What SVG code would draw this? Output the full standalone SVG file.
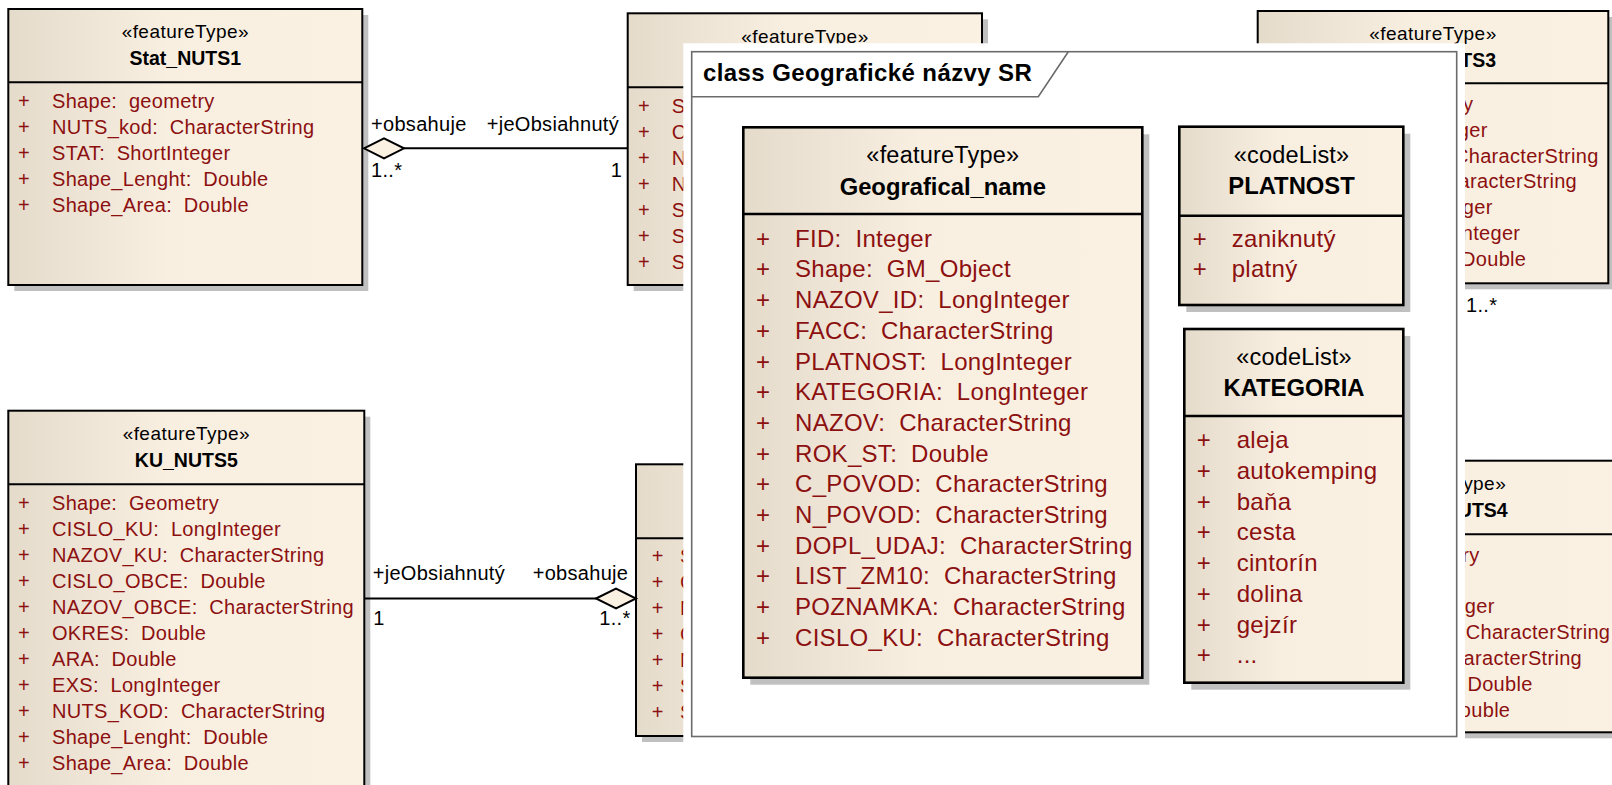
<svg xmlns="http://www.w3.org/2000/svg" width="1612" height="785" viewBox="0 0 1612 785">
  <defs>
    <linearGradient id="boxFill" x1="0" y1="0" x2="1" y2="0">
      <stop offset="0" stop-color="#e5dbcb"/>
      <stop offset="0.45" stop-color="#f9efe1"/>
      <stop offset="1" stop-color="#fbf1e3"/>
    </linearGradient>
    <style>
      text { font-family: "Liberation Sans", Arial, sans-serif; }
      .shadow { fill: #c0c0c0; }
      .box { fill: url(#boxFill); stroke: #000; stroke-width: 2; }
      .ibox { fill: url(#boxFill); stroke: #000; stroke-width: 2.6; }
      .div { stroke: #000; stroke-width: 2; }
      .idiv { stroke: #000; stroke-width: 2.4; }
      .st { font-size: 19px; fill: #000; text-anchor: middle; letter-spacing: 0.45px; }
      .nm { font-size: 19.5px; font-weight: bold; fill: #000; text-anchor: middle; }
      .at { font-size: 20px; fill: #8c1010; letter-spacing: 0.3px; }
      .ae { font-size: 20px; fill: #8c1010; letter-spacing: 0.3px; text-anchor: end; }
      .lb { font-size: 20px; fill: #000; letter-spacing: 0.3px; }
      .ist { font-size: 23.5px; fill: #000; text-anchor: middle; letter-spacing: 0.2px; }
      .inm { font-size: 23.8px; font-weight: bold; fill: #000; text-anchor: middle; }
      .iat { font-size: 24px; fill: #8c1010; letter-spacing: 0.3px; }
      .ttl { font-size: 24px; font-weight: bold; fill: #000; letter-spacing: 0.4px; }
      .conn { stroke: #000; stroke-width: 2; fill: none; }
      .agg { fill: #fbf1e3; stroke: #000; stroke-width: 2; }
    </style>
  </defs>

  <rect width="1612" height="785" fill="#fff"/>

  <!-- Stat_NUTS1 -->
  <g id="stat-nuts1">
    <rect class="shadow" x="14.3" y="15" width="354" height="276"/>
    <rect class="box" x="8.3" y="9" width="354" height="276"/>
    <line class="div" x1="8.3" y1="82.3" x2="362.3" y2="82.3"/>
    <text class="st" x="185.3" y="38.3">«featureType»</text>
    <text class="nm" x="185.3" y="65">Stat_NUTS1</text>
    <text class="at" x="18" y="108.3">+</text><text class="at" x="52" y="108.3">Shape:&#160; geometry</text>
    <text class="at" x="18" y="134.3">+</text><text class="at" x="52" y="134.3">NUTS_kod:&#160; CharacterString</text>
    <text class="at" x="18" y="160.2">+</text><text class="at" x="52" y="160.2">STAT:&#160; ShortInteger</text>
    <text class="at" x="18" y="186.1">+</text><text class="at" x="52" y="186.1">Shape_Lenght:&#160; Double</text>
    <text class="at" x="18" y="212">+</text><text class="at" x="52" y="212">Shape_Area:&#160; Double</text>
  </g>

  <!-- featureType box, top middle (mostly hidden) -->
  <g id="nuts-top-middle">
    <rect class="shadow" x="633.7" y="19.3" width="354.3" height="271.7"/>
    <rect class="box" x="627.7" y="13.3" width="354.3" height="271.7"/>
    <line class="div" x1="627.7" y1="87.3" x2="982" y2="87.3"/>
    <text class="st" x="805" y="42.6">«featureType»</text>
    <text class="at" x="638" y="113.3">+</text><text class="at" x="671.7" y="113.3">S</text>
    <text class="at" x="638" y="139.2">+</text><text class="at" x="671.7" y="139.2">C</text>
    <text class="at" x="638" y="165.1">+</text><text class="at" x="671.7" y="165.1">N</text>
    <text class="at" x="638" y="191">+</text><text class="at" x="671.7" y="191">N</text>
    <text class="at" x="638" y="216.9">+</text><text class="at" x="671.7" y="216.9">S</text>
    <text class="at" x="638" y="242.8">+</text><text class="at" x="671.7" y="242.8">S</text>
    <text class="at" x="638" y="268.7">+</text><text class="at" x="671.7" y="268.7">S</text>
  </g>

  <!-- featureType box, top right (NUTS3) -->
  <g id="nuts3">
    <rect class="shadow" x="1263.7" y="17" width="350.6" height="272.3"/>
    <rect class="box" x="1257.7" y="11" width="350.6" height="272.3"/>
    <line class="div" x1="1257.7" y1="83.3" x2="1608.3" y2="83.3"/>
    <text class="st" x="1433" y="40">«featureType»</text>
    <text class="nm" x="1496" y="66.7" style="text-anchor:end">UTS3</text>
    <text class="ae" x="1473.3" y="110.9">y</text>
    <text class="ae" x="1487.6" y="136.7">ger</text>
    <text class="ae" x="1598.6" y="162.5">CharacterString</text>
    <text class="ae" x="1577" y="188.3">aracterString</text>
    <text class="ae" x="1492.6" y="214.1">ger</text>
    <text class="ae" x="1520.3" y="239.9">nteger</text>
    <text class="ae" x="1526.3" y="265.7">Double</text>
  </g>

  <!-- KU_NUTS5 -->
  <g id="ku-nuts5">
    <rect class="shadow" x="14.3" y="416.7" width="356" height="400"/>
    <rect class="box" x="8.3" y="410.7" width="356" height="400"/>
    <line class="div" x1="8.3" y1="484.3" x2="364.3" y2="484.3"/>
    <text class="st" x="186.3" y="440">«featureType»</text>
    <text class="nm" x="186.3" y="466.7">KU_NUTS5</text>
    <text class="at" x="18" y="510">+</text><text class="at" x="52" y="510">Shape:&#160; Geometry</text>
    <text class="at" x="18" y="536">+</text><text class="at" x="52" y="536">CISLO_KU:&#160; LongInteger</text>
    <text class="at" x="18" y="562">+</text><text class="at" x="52" y="562">NAZOV_KU:&#160; CharacterString</text>
    <text class="at" x="18" y="588">+</text><text class="at" x="52" y="588">CISLO_OBCE:&#160; Double</text>
    <text class="at" x="18" y="614">+</text><text class="at" x="52" y="614">NAZOV_OBCE:&#160; CharacterString</text>
    <text class="at" x="18" y="640">+</text><text class="at" x="52" y="640">OKRES:&#160; Double</text>
    <text class="at" x="18" y="666">+</text><text class="at" x="52" y="666">ARA:&#160; Double</text>
    <text class="at" x="18" y="692">+</text><text class="at" x="52" y="692">EXS:&#160; LongInteger</text>
    <text class="at" x="18" y="718">+</text><text class="at" x="52" y="718">NUTS_KOD:&#160; CharacterString</text>
    <text class="at" x="18" y="744">+</text><text class="at" x="52" y="744">Shape_Lenght:&#160; Double</text>
    <text class="at" x="18" y="770">+</text><text class="at" x="52" y="770">Shape_Area:&#160; Double</text>
  </g>

  <!-- featureType box, bottom middle (mostly hidden) -->
  <g id="nuts-bottom-middle">
    <rect class="shadow" x="642" y="470.3" width="354" height="271.7"/>
    <rect class="box" x="636" y="464.3" width="354" height="271.7"/>
    <line class="div" x1="636" y1="538.3" x2="990" y2="538.3"/>
    <text class="at" x="651.7" y="563.3">+</text><text class="at" x="680" y="563.3">S</text>
    <text class="at" x="651.7" y="589.3">+</text><text class="at" x="680" y="589.3">C</text>
    <text class="at" x="651.7" y="615.3">+</text><text class="at" x="680" y="615.3">N</text>
    <text class="at" x="651.7" y="641.3">+</text><text class="at" x="680" y="641.3">C</text>
    <text class="at" x="651.7" y="667.3">+</text><text class="at" x="680" y="667.3">N</text>
    <text class="at" x="651.7" y="693.3">+</text><text class="at" x="680" y="693.3">S</text>
    <text class="at" x="651.7" y="719.3">+</text><text class="at" x="680" y="719.3">S</text>
  </g>

  <!-- featureType box, bottom right (NUTS4) -->
  <g id="nuts4">
    <rect class="shadow" x="1273" y="466.7" width="356" height="271.6"/>
    <rect class="box" x="1267" y="460.7" width="356" height="271.6"/>
    <line class="div" x1="1267" y1="534.3" x2="1623" y2="534.3"/>
    <text class="st" x="1442.5" y="490">«featureType»</text>
    <text class="nm" x="1507.7" y="516.7" style="text-anchor:end">UTS4</text>
    <text class="ae" x="1479.6" y="561.7">ry</text>
    <text class="ae" x="1494.6" y="613.3">ger</text>
    <text class="ae" x="1610.3" y="639.1">CharacterString</text>
    <text class="ae" x="1582" y="664.9">aracterString</text>
    <text class="ae" x="1532.6" y="690.7">Double</text>
    <text class="ae" x="1510.3" y="716.5">ouble</text>
  </g>

  <!-- associations -->
  <g id="connectors">
    <line class="conn" x1="404" y1="148.3" x2="628" y2="148.3"/>
    <polygon class="agg" points="364,148.3 384,138.3 404,148.3 384,158.3"/>
    <line class="conn" x1="364.3" y1="598.5" x2="596" y2="598.5"/>
    <polygon class="agg" points="596,598.5 616,588.5 636,598.5 616,608.5"/>
    <text class="lb" x="371" y="131.3">+obsahuje</text>
    <text class="lb" x="486.7" y="131.3">+jeObsiahnutý</text>
    <text class="lb" x="371" y="176.7">1..*</text>
    <text class="lb" x="610.7" y="176.7">1</text>
    <text class="lb" x="372.7" y="580">+jeObsiahnutý</text>
    <text class="lb" x="532.7" y="580">+obsahuje</text>
    <text class="lb" x="373.3" y="625">1</text>
    <text class="lb" x="599.3" y="625">1..*</text>
    <text class="lb" x="1466" y="311.7">1..*</text>
  </g>

  <!-- package frame "Geografické názvy SR" drawn on a white panel -->
  <g id="package-frame">
    <rect x="683.3" y="43.3" width="781.7" height="707" fill="#fff"/>
    <rect x="691.7" y="51.7" width="765" height="684.8" fill="#fff" stroke="#6b6b6b" stroke-width="1.6"/>
    <polyline points="691.7,96.7 1038.3,96.7 1068.3,51.7" fill="none" stroke="#6b6b6b" stroke-width="1.6"/>
    <text class="ttl" x="703" y="81">class Geografické názvy SR</text>
  </g>

  <!-- Geografical_name -->
  <g id="geografical-name">
    <rect class="shadow" x="750.3" y="134.3" width="399" height="550.4"/>
    <rect class="ibox" x="743.3" y="127.3" width="399" height="550.4"/>
    <line class="idiv" x1="743.3" y1="214" x2="1142.3" y2="214"/>
    <text class="ist" x="942.8" y="163.3">«featureType»</text>
    <text class="inm" x="942.8" y="195">Geografical_name</text>
    <text class="iat" x="756" y="246.7">+</text><text class="iat" x="795" y="246.7">FID:&#160; Integer</text>
    <text class="iat" x="756" y="277.4">+</text><text class="iat" x="795" y="277.4">Shape:&#160; GM_Object</text>
    <text class="iat" x="756" y="308.1">+</text><text class="iat" x="795" y="308.1">NAZOV_ID:&#160; LongInteger</text>
    <text class="iat" x="756" y="338.8">+</text><text class="iat" x="795" y="338.8">FACC:&#160; CharacterString</text>
    <text class="iat" x="756" y="369.5">+</text><text class="iat" x="795" y="369.5">PLATNOST:&#160; LongInteger</text>
    <text class="iat" x="756" y="400.2">+</text><text class="iat" x="795" y="400.2">KATEGORIA:&#160; LongInteger</text>
    <text class="iat" x="756" y="430.9">+</text><text class="iat" x="795" y="430.9">NAZOV:&#160; CharacterString</text>
    <text class="iat" x="756" y="461.6">+</text><text class="iat" x="795" y="461.6">ROK_ST:&#160; Double</text>
    <text class="iat" x="756" y="492.3">+</text><text class="iat" x="795" y="492.3">C_POVOD:&#160; CharacterString</text>
    <text class="iat" x="756" y="523">+</text><text class="iat" x="795" y="523">N_POVOD:&#160; CharacterString</text>
    <text class="iat" x="756" y="553.7">+</text><text class="iat" x="795" y="553.7">DOPL_UDAJ:&#160; CharacterString</text>
    <text class="iat" x="756" y="584.4">+</text><text class="iat" x="795" y="584.4">LIST_ZM10:&#160; CharacterString</text>
    <text class="iat" x="756" y="615.1">+</text><text class="iat" x="795" y="615.1">POZNAMKA:&#160; CharacterString</text>
    <text class="iat" x="756" y="645.8">+</text><text class="iat" x="795" y="645.8">CISLO_KU:&#160; CharacterString</text>
  </g>

  <!-- PLATNOST code list -->
  <g id="platnost">
    <rect class="shadow" x="1186.3" y="133.7" width="224" height="178.3"/>
    <rect class="ibox" x="1179.3" y="126.7" width="224" height="178.3"/>
    <line class="idiv" x1="1179.3" y1="215.7" x2="1403.3" y2="215.7"/>
    <text class="ist" x="1291.5" y="163.3">«codeList»</text>
    <text class="inm" x="1291.5" y="194">PLATNOST</text>
    <text class="iat" x="1192.7" y="246.7">+</text><text class="iat" x="1231.7" y="246.7">zaniknutý</text>
    <text class="iat" x="1192.7" y="276.5">+</text><text class="iat" x="1231.7" y="276.5">platný</text>
  </g>

  <!-- KATEGORIA code list -->
  <g id="kategoria">
    <rect class="shadow" x="1191.3" y="336" width="219" height="353.7"/>
    <rect class="ibox" x="1184.3" y="329" width="219" height="353.7"/>
    <line class="idiv" x1="1184.3" y1="416" x2="1403.3" y2="416"/>
    <text class="ist" x="1294" y="365">«codeList»</text>
    <text class="inm" x="1294" y="395.7">KATEGORIA</text>
    <text class="iat" x="1196.7" y="448.3">+</text><text class="iat" x="1236.7" y="448.3">aleja</text>
    <text class="iat" x="1196.7" y="479">+</text><text class="iat" x="1236.7" y="479">autokemping</text>
    <text class="iat" x="1196.7" y="509.7">+</text><text class="iat" x="1236.7" y="509.7">baňa</text>
    <text class="iat" x="1196.7" y="540.4">+</text><text class="iat" x="1236.7" y="540.4">cesta</text>
    <text class="iat" x="1196.7" y="571.1">+</text><text class="iat" x="1236.7" y="571.1">cintorín</text>
    <text class="iat" x="1196.7" y="601.8">+</text><text class="iat" x="1236.7" y="601.8">dolina</text>
    <text class="iat" x="1196.7" y="632.5">+</text><text class="iat" x="1236.7" y="632.5">gejzír</text>
    <text class="iat" x="1196.7" y="663.2">+</text><text class="iat" x="1236.7" y="663.2">...</text>
  </g>
</svg>
